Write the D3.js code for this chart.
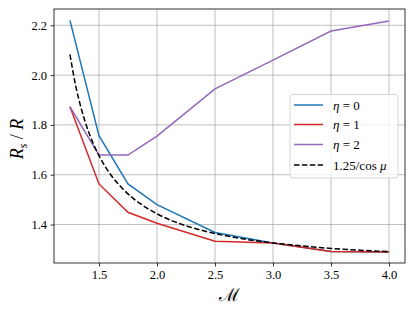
<!DOCTYPE html>
<html>
<head>
<meta charset="utf-8">
<script src="https://cdn.jsdelivr.net/npm/d3@7"></script>
<style>
  body { margin: 0; background: #fff; }
  svg { display: block; }
  svg text { font-family: 'Liberation Serif', 'DejaVu Serif', serif; }
</style>
</head>
<body>
<svg id="chart" width="415" height="311"></svg>
<script>
// ---- data ----
const machValues = [1.25, 1.5, 1.75, 2.0, 2.5, 3.0, 3.5, 4.0];
const eta0 = [2.22, 1.757, 1.563, 1.48, 1.368, 1.326, 1.292, 1.29];
const eta1 = [1.873, 1.563, 1.449, 1.405, 1.333, 1.326, 1.292, 1.29];
const eta2 = [1.873, 1.679, 1.679, 1.755, 1.945, 2.06, 2.177, 2.217];
const refMach = [1.25, 1.3, 1.35, 1.4, 1.45, 1.5, 1.6, 1.7, 1.8, 1.9, 2.0, 2.25, 2.5, 2.75, 3.0, 3.25, 3.5, 3.75, 4.0];
const refValues = [2.083, 1.956, 1.861, 1.786, 1.726, 1.677, 1.601, 1.546, 1.503, 1.470, 1.443, 1.395, 1.364, 1.342, 1.326, 1.314, 1.304, 1.297, 1.291];
const xTicks = [1.5, 2.0, 2.5, 3.0, 3.5, 4.0];
const yTicks = [1.4, 1.6, 1.8, 2.0, 2.2];
const seriesNames = ["η = 0", "η = 1", "η = 2"];
const seriesColors = ["#1f77b4", "#d62728", "#9467bd"];

// ---- layout ----
const L = 54, R = 405, T = 9, B = 263;
const SERIF = "'Liberation Serif', 'DejaVu Serif', serif";
const svg = d3.select("#chart");
const x = d3.scaleLinear().domain([1.1125, 4.1375]).range([L, R]);
const y = d3.scaleLinear().domain([1.2455, 2.2655]).range([B, T]);

// grid
const g = svg.append("g");
g.selectAll(".vg").data(xTicks).enter().append("line")
  .attr("x1", d => x(d)).attr("x2", d => x(d)).attr("y1", T).attr("y2", B)
  .attr("stroke", "#b0b0b0").attr("stroke-width", 0.8);
g.selectAll(".hg").data(yTicks).enter().append("line")
  .attr("x1", L).attr("x2", R).attr("y1", d => y(d)).attr("y2", d => y(d))
  .attr("stroke", "#b0b0b0").attr("stroke-width", 0.8);

// axes
const xAxis = d3.axisBottom(x).tickValues(xTicks).tickFormat(d3.format(".1f")).tickSize(3.5).tickPadding(3.5);
const yAxis = d3.axisLeft(y).tickValues(yTicks).tickFormat(d3.format(".1f")).tickSize(3.5).tickPadding(3.5);
const gx = svg.append("g").attr("transform", `translate(0,${B})`).call(xAxis);
const gy = svg.append("g").attr("transform", `translate(${L},0)`).call(yAxis);
[gx, gy].forEach(a => {
  a.attr("font-family", null).attr("font-size", null);
  a.select(".domain").remove();
  a.selectAll("text").style("font-family", SERIF).style("font-size", "12.5px").attr("fill", "#000");
  a.selectAll("line").attr("stroke", "#000").attr("stroke-width", 0.8);
});

// lines
const line = d3.line().x(d => x(d[0])).y(d => y(d[1]));
const allSeries = [eta0, eta1, eta2];
allSeries.forEach((vals, i) => {
  svg.append("path")
    .datum(machValues.map((m, k) => [m, vals[k]]))
    .attr("d", line)
    .attr("fill", "none")
    .attr("stroke", seriesColors[i])
    .attr("stroke-width", 1.5);
});
const refLine = d3.line().x(d => x(d[0])).y(d => y(d[1])).curve(d3.curveMonotoneX);
svg.append("path")
  .datum(refMach.map((m, k) => [m, refValues[k]]))
  .attr("d", refLine)
  .attr("fill", "none")
  .attr("stroke", "#000")
  .attr("stroke-width", 1.5)
  .attr("stroke-dasharray", "5.5,2.4");

// frame
svg.append("rect").attr("x", L).attr("y", T).attr("width", R - L).attr("height", B - T)
  .attr("fill", "none").attr("stroke", "#000").attr("stroke-width", 0.8);

// legend
const lg = svg.append("g");
lg.append("rect").attr("x", 290).attr("y", 94.5).attr("width", 108).attr("height", 83.5)
  .attr("rx", 2.5).attr("fill", "#fff").attr("fill-opacity", 0.8)
  .attr("stroke", "#cccccc").attr("stroke-width", 0.8);
const rowsY = [105, 124.5, 144.5, 165];
const legendItems = [
  { color: seriesColors[0], dash: null, label: seriesNames[0] },
  { color: seriesColors[1], dash: null, label: seriesNames[1] },
  { color: seriesColors[2], dash: null, label: seriesNames[2] },
  { color: "#000", dash: "5.5,2.4", label: "ref" }
];
legendItems.forEach((it, i) => {
  const yy = rowsY[i];
  lg.append("line").attr("x1", 294).attr("x2", 323).attr("y1", yy).attr("y2", yy)
    .attr("stroke", it.color).attr("stroke-width", 1.5)
    .attr("stroke-dasharray", it.dash);
  const t = lg.append("text").attr("x", 333).attr("y", yy + 4.5)
    .style("font-family", SERIF).style("font-size", "13px").attr("fill", "#000");
  if (i < 3) {
    t.append("tspan").attr("font-style", "italic").text("η");
    t.append("tspan").text(" = " + it.label.split("= ")[1]);
  } else {
    t.append("tspan").text("1.25/cos ");
    t.append("tspan").attr("font-style", "italic").text("μ");
  }
});

// axis labels
svg.append("text").attr("x", 229).attr("y", 301).attr("text-anchor", "middle")
  .style("font-family", "'DejaVu Serif', serif").style("font-size", "18px").text("ℳ");
const yl = svg.append("text").attr("transform", "translate(23,139) rotate(-90)")
  .attr("text-anchor", "middle").style("font-family", SERIF).style("font-size", "18px");
yl.append("tspan").attr("font-style", "italic").text("R");
yl.append("tspan").attr("font-style", "italic").style("font-size", "12px").attr("dy", 4).text("s");
yl.append("tspan").attr("dy", -4).text(" /");
yl.append("tspan").attr("font-style", "italic").text(" R");
</script>
</body>
</html>
